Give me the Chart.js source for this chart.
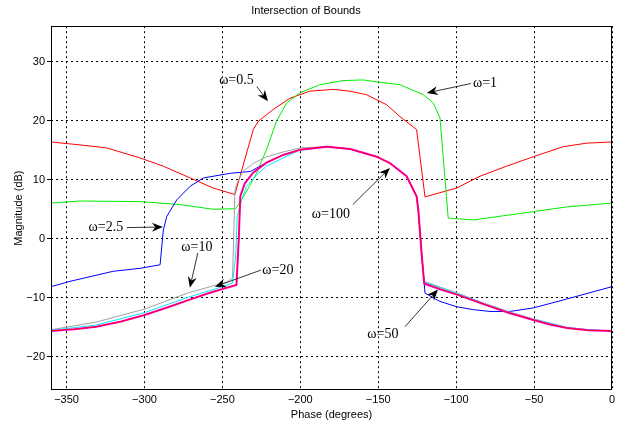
<!DOCTYPE html>
<html><head><meta charset="utf-8">
<script src="https://cdn.jsdelivr.net/npm/chart.js@4/dist/chart.umd.min.js"></script>
<style>html,body{margin:0;padding:0;background:#fff}</style>
</head><body>
<canvas id="c" width="620" height="424"></canvas>
<script>
// ---- data (phase in degrees, magnitude in dB) ----
const xTicks = [-350,-300,-250,-200,-150,-100,-50,0];
const yTicks = [-20,-10,0,10,20,30];

const phaseW05 = [-360,-341.4,-324.4,-302.9,-288,-270.7,-255.9,-242,-230.2,-227,-217.4,-206.7,-193.9,-178.9,-168.2,-157.5,-144.6,-136.1,-125.4,-120,-99.7,-84.7,-67.6,-50.5,-31.3,-16.2,0];
const magW05   = [16.4,15.9,15.4,13.7,12.3,10.3,8.6,7.5,18.5,19.9,21.9,23.8,25.0,25.3,25.0,24.4,22.7,20.7,18.5,7.1,8.6,10.6,12.3,13.9,15.6,16.2,16.4];

const phaseW1 = [-360,-341.4,-302.9,-277.3,-255.9,-241.5,-236.7,-228.1,-221.7,-215.3,-208.8,-200.3,-187.4,-172.5,-159.7,-148.9,-136.1,-121.1,-114.7,-110.4,-105.1,-89,-69.8,-50.5,-29.1,0];
const magW1   = [6.05,6.4,6.3,5.8,5.0,5.1,7.0,11.1,15.1,19.9,23.0,24.7,26.1,26.8,26.9,26.5,26.1,24.4,23.0,20.5,3.5,3.2,3.9,4.6,5.4,6.05];

const phaseW25 = [-360,-347.8,-320.1,-302.9,-290,-287.9,-285.7,-279.3,-270.7,-262.2,-244.9,-232,-221.7,-211,-200,-183,-168,-151,-142.5,-131.8,-125.4,-124.3,-122.2,-120.5,-120,-110.4,-99.7,-89,-78.3,-65.5,-50.5,-29.1,0];
const magW25   = [-8.1,-7.2,-5.5,-5.0,-4.4,1.5,3.8,6.6,8.9,10.3,11.1,11.4,12.9,14.2,15.1,15.6,15.2,13.9,12.8,10.6,7.2,4.9,-2.4,-7.5,-9.2,-10.6,-11.5,-12.0,-12.3,-12.3,-11.7,-10.2,-8.1];

const phaseW10 = [-360,-331,-300,-272.5,-247,-243.5,-242.8,-242,-241,-237,-230,-221.5,-211,-200,-183,-168,-151,-142.5,-131.8,-125.4,-124.3,-122.2,-120.5,-110,-99,-82,-65.5,-51,-29,-15,0];
const magW10   = [-15.4,-14.1,-11.9,-9.2,-7.3,-6.6,0,8.0,9.2,11.4,12.8,13.9,14.7,15.4,15.6,15.2,13.9,12.8,10.6,7.2,4.9,-2.4,-7.2,-8.2,-9.2,-10.9,-12.4,-13.5,-15.0,-15.4,-15.6];

const phaseW20 = [-360,-331,-300,-272,-250,-243.5,-241.5,-240.5,-237.7,-234.5,-228.1,-221.7,-211,-200.3,-183,-168,-151,-142.5,-131.8,-125.4,-124.3,-122.2,-120.5,-110,-99,-82,-65.5,-51,-29,-15,0];
const magW20   = [-15.5,-14.6,-12.5,-9.9,-8.1,-7.5,-3.0,3.8,6.6,8.9,10.8,12.3,13.7,15.0,15.6,15.2,13.9,12.8,10.6,7.2,4.9,-2.4,-7.3,-8.3,-9.3,-11.0,-12.5,-13.6,-15.0,-15.4,-15.6];

const phaseW50 = [-360,-345,-331,-315,-300,-285,-271,-260,-250,-241,-239.5,-238.5,-235.6,-230.3,-221.7,-211,-200,-183,-168,-151,-142.5,-131.8,-125.4,-124.3,-122.2,-120.5,-110,-99,-82,-65.5,-51,-40,-29,-15,0];
const magW50   = [-15.6,-15.3,-14.9,-14.0,-12.9,-11.6,-10.3,-9.3,-8.5,-7.8,0,7.2,9.4,11.2,12.9,14.2,15.1,15.6,15.2,13.9,12.8,10.6,7.2,4.9,-2.4,-7.6,-8.6,-9.5,-11.1,-12.6,-13.7,-14.5,-15.1,-15.5,-15.6];

const phaseW100 = [-360,-345,-331,-315,-300,-285,-271,-260,-250,-241,-239.5,-238.5,-235.6,-230.3,-221.7,-211,-200,-183,-168,-151,-142.5,-131.8,-125.4,-124.3,-122.2,-120.5,-110,-99,-82,-65.5,-51,-40,-29,-15,0];
const magW100   = [-15.6,-15.3,-14.9,-14.0,-12.9,-11.6,-10.3,-9.3,-8.5,-7.8,0,7.2,9.4,11.2,12.9,14.2,15.1,15.6,15.2,13.9,12.8,10.6,7.2,4.9,-2.4,-7.5,-8.5,-9.5,-11.1,-12.6,-13.7,-14.5,-15.1,-15.5,-15.6];

// annotation labels and their anchors (data coordinates)
const annLabels = ['ω=0.5','ω=1','ω=2.5','ω=10','ω=20','ω=100','ω=50'];
const annTextX  = [-241,-81.5,-324.8,-266.4,-214.4,-180.4,-147];
const annTextY  = [26.9,26.4,1.9,-1.4,-5.4,4.2,-16.1];
const annFromX  = [-228,-90.5,-311.3,-265.8,-225.3,-166.3,-132.9];
const annFromY  = [25.8,26.3,1.9,-2.4,-5.3,5.8,-14.9];
const annToX    = [-220.8,-118.8,-288.2,-270.9,-254.8,-142.5,-111.7];
const annToY    = [23.3,24.7,2.0,-8.3,-8.1,12.0,-8.6];

// ---- build chart ----
const pts = (p, m) => p.map((v, i) => ({x: v, y: m[i]}));
const series = [
  {label:'ω=100', p:phaseW100, m:magW100, c:'#ff0000', w:1,   o:0},
  {label:'ω=50',  p:phaseW50,  m:magW50,  c:'#ff00ff', w:2,   o:1},
  {label:'ω=20',  p:phaseW20,  m:magW20,  c:'#00e8ff', w:1,   o:2},
  {label:'ω=10',  p:phaseW10,  m:magW10,  c:'#a0a0a0', w:1,   o:3},
  {label:'ω=2.5', p:phaseW25,  m:magW25,  c:'#0000ff', w:1,   o:4},
  {label:'ω=1',   p:phaseW1,   m:magW1,   c:'#00ee00', w:1,   o:5},
  {label:'ω=0.5', p:phaseW05,  m:magW05,  c:'#ff0000', w:1,   o:6}
];
const datasets = series.map(s => ({
  label: s.label, data: pts(s.p, s.m), borderColor: s.c, backgroundColor: s.c,
  borderWidth: s.w, pointRadius: 0, tension: 0, fill: false, order: s.o
}));

const minus = v => (v < 0 ? '\u2212' + Math.abs(v) : String(v));

const boxPlugin = {
  id: 'box',
  afterDatasetsDraw(chart) {
    const {ctx, chartArea: a} = chart;
    ctx.save();
    ctx.strokeStyle = '#000';
    ctx.lineWidth = 1;
    ctx.strokeRect(Math.round(a.left) + 0.5, Math.round(a.top) + 0.5,
                   Math.round(a.right - a.left) - 1, Math.round(a.bottom - a.top) - 1);
    ctx.restore();
  }
};

const annPlugin = {
  id: 'ann',
  afterDraw(chart) {
    const {ctx} = chart;
    const xs = chart.scales.x, ys = chart.scales.y;
    ctx.save();
    ctx.fillStyle = '#000';
    ctx.strokeStyle = '#000';
    ctx.font = '14px "Liberation Serif", "Times New Roman", serif';
    ctx.textAlign = 'center';
    ctx.textBaseline = 'middle';
    annLabels.forEach((t, i) => {
      ctx.fillText(t, xs.getPixelForValue(annTextX[i]), ys.getPixelForValue(annTextY[i]));
      const x1 = xs.getPixelForValue(annFromX[i]), y1 = ys.getPixelForValue(annFromY[i]);
      const x2 = xs.getPixelForValue(annToX[i]),   y2 = ys.getPixelForValue(annToY[i]);
      const ang = Math.atan2(y2 - y1, x2 - x1);
      const L = 11, W = 4.5, N = 7.5;
      const cos = Math.cos(ang), sin = Math.sin(ang);
      const bx = x2 - L * cos, by = y2 - L * sin;
      const nx = x2 - N * cos, ny = y2 - N * sin;
      ctx.lineWidth = 0.8;
      ctx.beginPath(); ctx.moveTo(x1, y1); ctx.lineTo(nx, ny); ctx.stroke();
      ctx.beginPath();
      ctx.moveTo(x2, y2);
      ctx.lineTo(bx - W * sin, by + W * cos);
      ctx.lineTo(nx, ny);
      ctx.lineTo(bx + W * sin, by - W * cos);
      ctx.closePath();
      ctx.fill();
    });
    ctx.restore();
  }
};

const tickFont = {family: '"Liberation Sans", Arial, sans-serif', size: 11};

new Chart(document.getElementById('c'), {
  type: 'line',
  data: {datasets},
  options: {
    responsive: false, animation: false, devicePixelRatio: 1,
    layout: {padding: {left: 0, right: 8, top: 0, bottom: 0}},
    plugins: {
      legend: {display: false}, tooltip: {enabled: false},
      title: {display: true, text: 'Intersection of Bounds', color: '#000',
              font: {family: '"Liberation Sans", Arial, sans-serif', size: 11, weight: 'normal'},
              padding: {top: 4, bottom: 9}}
    },
    scales: {
      x: {
        type: 'linear', min: -360, max: 0,
        afterBuildTicks: s => { s.ticks = xTicks.map(v => ({value: v})); },
        afterFit: s => { s.height = 34; },
        grid: {color: '#000', lineWidth: 1, drawTicks: false},
        border: {display: false, dash: [2, 3]},
        ticks: {color: '#000', font: tickFont, padding: 3, maxRotation: 0, callback: v => minus(v)},
        title: {display: true, text: 'Phase (degrees)', color: '#000', font: tickFont, padding: {top: 0, bottom: 2}}
      },
      y: {
        type: 'linear', min: -25.6, max: 36.0,
        afterBuildTicks: s => { s.ticks = yTicks.map(v => ({value: v})); },
        afterFit: s => { s.width = 51; },
        grid: {color: '#000', lineWidth: 1, drawTicks: true, tickLength: 4, tickColor: '#000', tickBorderDash: []},
        border: {display: false, dash: [2, 3]},
        ticks: {color: '#000', font: tickFont, padding: 2, callback: v => minus(v)},
        title: {display: true, text: 'Magnitude (dB)', color: '#000', font: tickFont, padding: {top: 12, bottom: 0}}
      }
    }
  },
  plugins: [boxPlugin, annPlugin]
});
</script>
</body></html>
